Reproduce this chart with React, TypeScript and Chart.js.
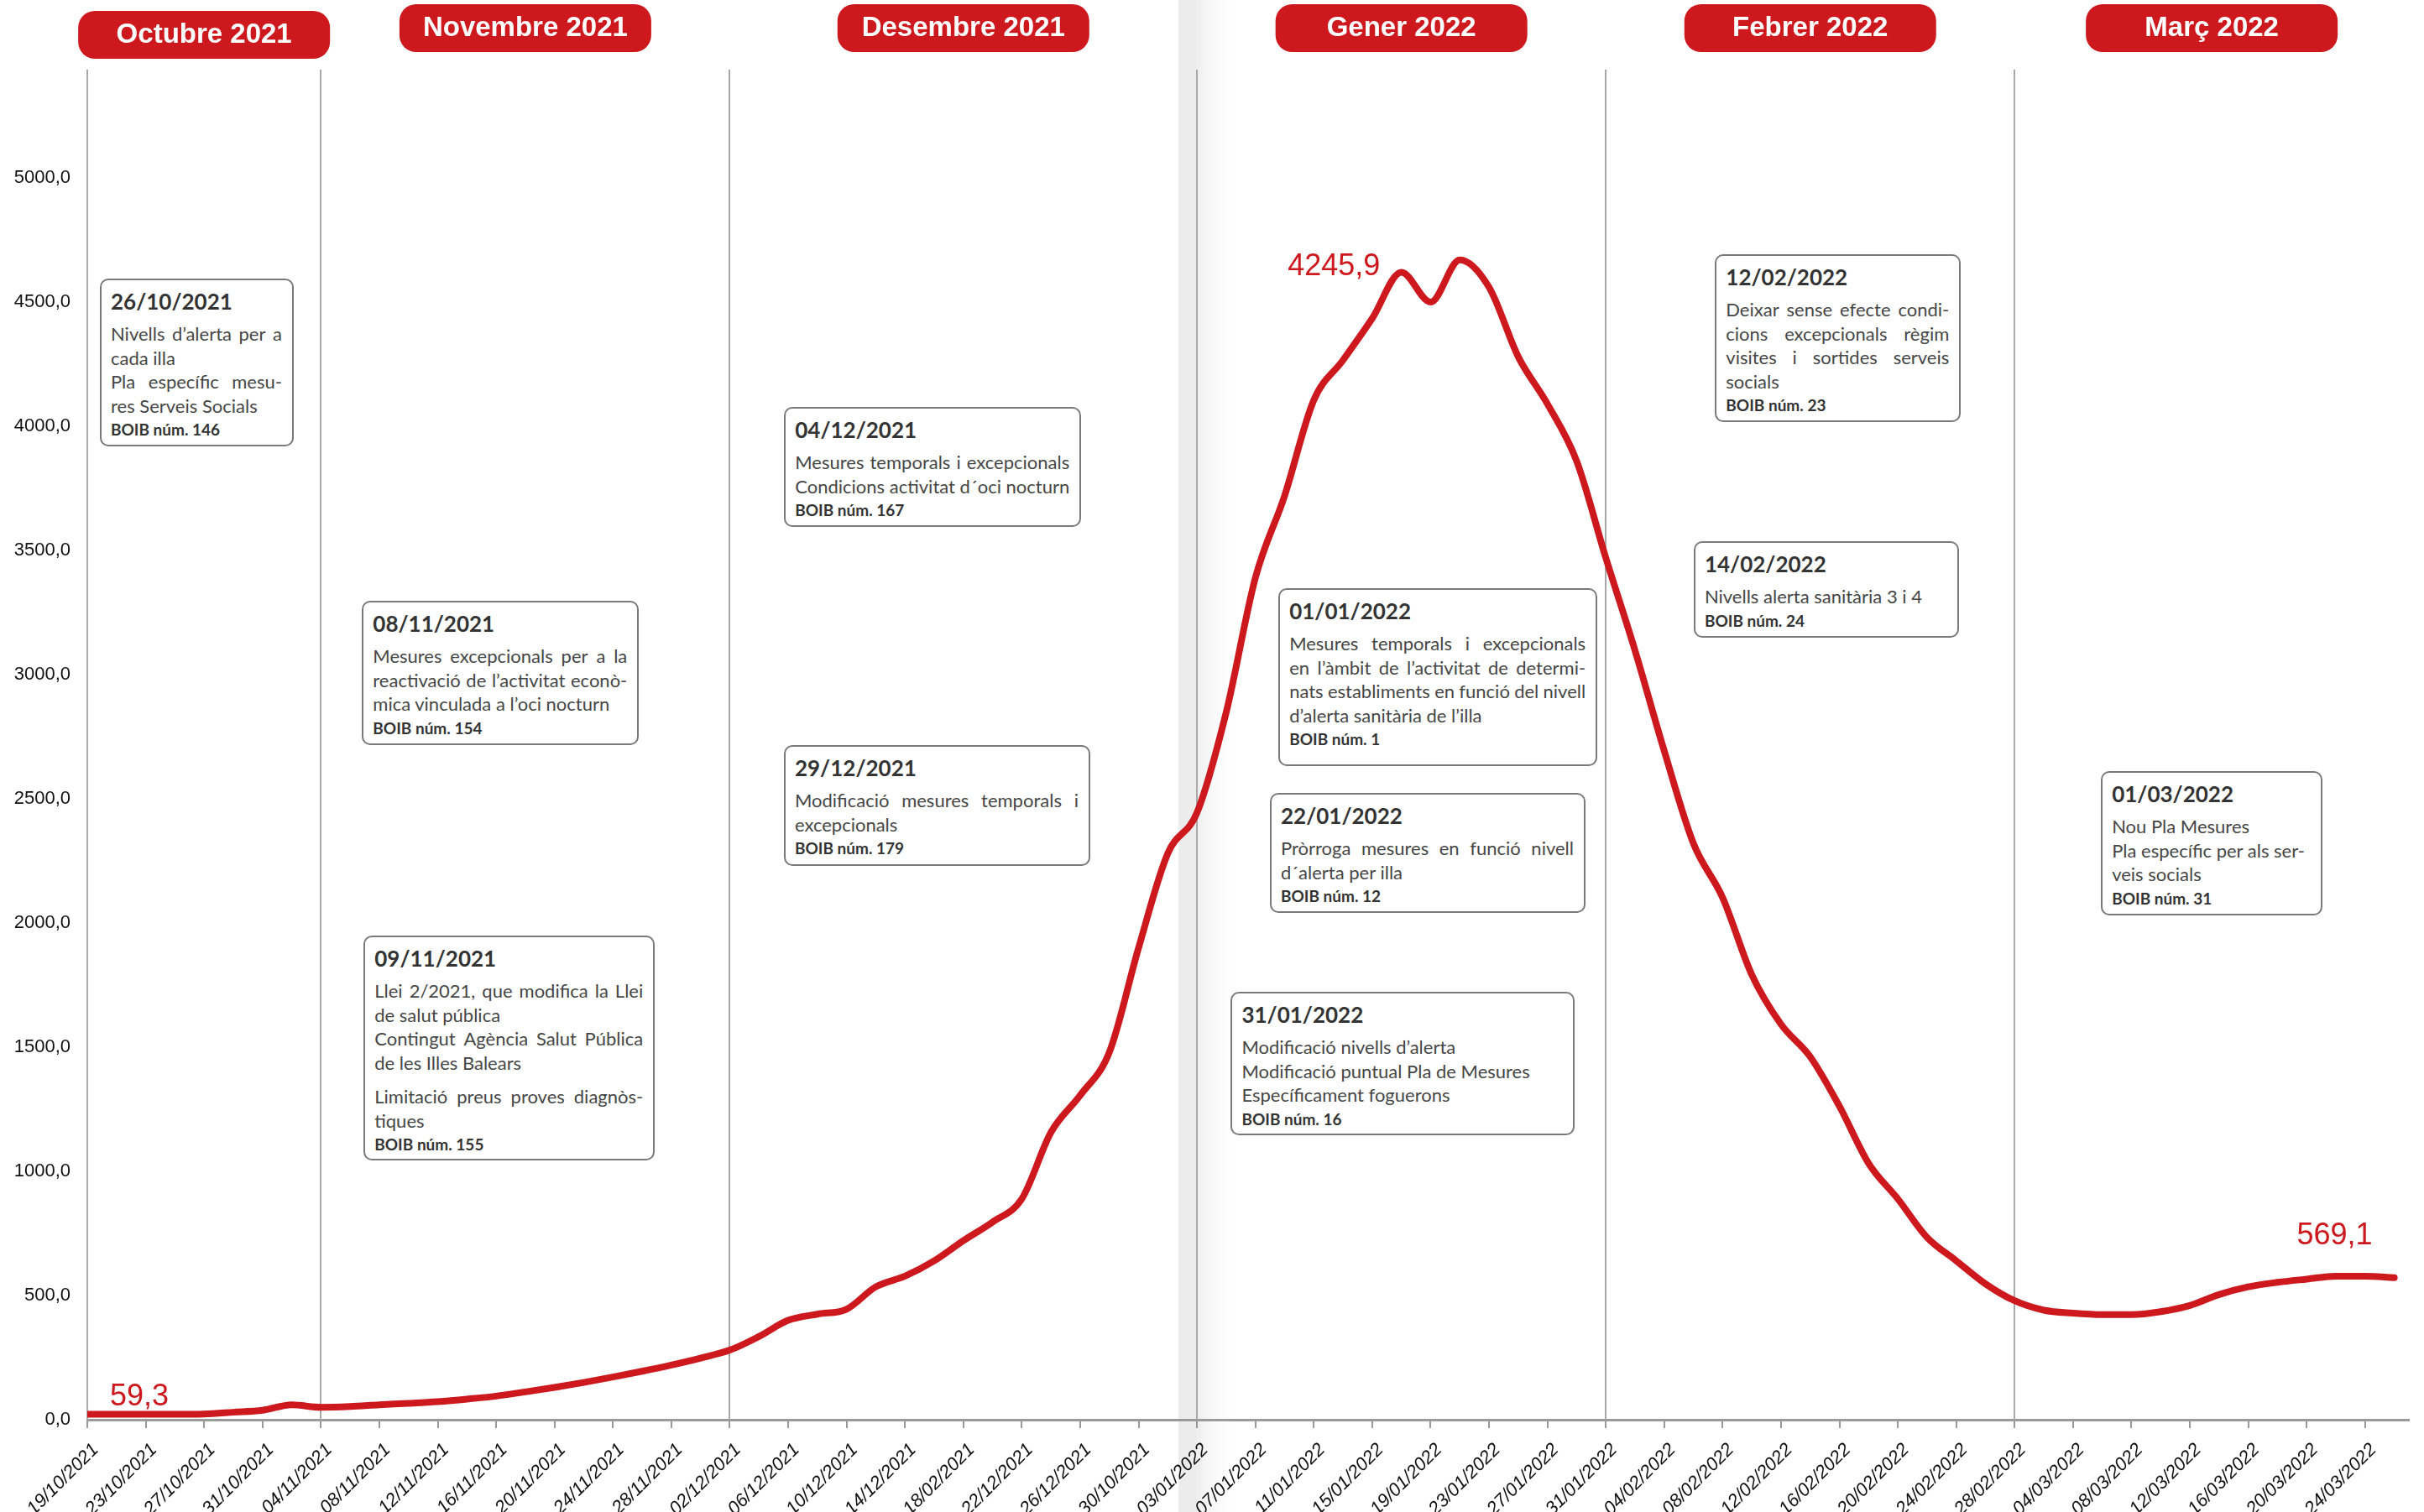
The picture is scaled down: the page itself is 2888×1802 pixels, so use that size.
import React, { useEffect, useRef, useState } from "react";
import { Chart, registerables } from "chart.js";

Chart.register(...registerables);

// ---- x axis: days counted from 19/10/2021 ----
const tickDays = [0, 4, 8, 12, 16, 20, 24, 28, 32, 36, 40, 44, 48, 52, 56, 60, 64, 68, 72, 76, 80, 84, 88, 92, 96, 100, 104, 108, 112, 116, 120, 124, 128, 132, 136, 140, 144, 148, 152, 156];
const tickLabels = [
  "19/10/2021", "23/10/2021", "27/10/2021", "31/10/2021", "04/11/2021", "08/11/2021", "12/11/2021",
  "16/11/2021", "20/11/2021", "24/11/2021", "28/11/2021", "02/12/2021", "06/12/2021", "10/12/2021",
  "14/12/2021", "18/02/2021", "22/12/2021", "26/12/2021", "30/10/2021", "03/01/2022", "07/01/2022",
  "11/01/2022", "15/01/2022", "19/01/2022", "23/01/2022", "27/01/2022", "31/01/2022", "04/02/2022",
  "08/02/2022", "12/02/2022", "16/02/2022", "20/02/2022", "24/02/2022", "28/02/2022", "04/03/2022",
  "08/03/2022", "12/03/2022", "16/03/2022", "20/03/2022", "24/03/2022",
];
const axisEndDay = 159;

// ---- series (incidence) sampled every two days ----
const sampleDays = [
  0, 2, 4, 6, 8, 10, 12, 14, 16, 18, 20, 22, 24, 26, 28, 30, 32, 34, 36, 38,
  40, 42, 44, 46, 48, 50, 52, 54, 56, 58, 60, 62, 64, 66, 68, 70, 72, 74, 76, 78,
  80, 82, 84, 86, 88, 90, 92, 94, 96, 98, 100, 102, 104, 106, 108, 110, 112, 114, 116, 118,
  120, 122, 124, 126, 128, 130, 132, 134, 136, 138, 140, 142, 144, 146, 148, 150, 152, 154, 156, 158,
];
const incidence = [
  22, 22, 22, 22, 23, 30, 38, 60, 50, 53, 60, 66, 73, 83, 95, 112, 130, 150, 172, 195,
  220, 248, 280, 335, 400, 425, 445, 535, 578, 640, 721, 796, 889, 1157, 1306, 1480, 1900, 2280, 2444, 2848,
  3390, 3720, 4105, 4266, 4434, 4620, 4500, 4670, 4560, 4280, 4090, 3860, 3470, 3097, 2693, 2320, 2102, 1791, 1592, 1461,
  1262, 1032, 889, 734, 640, 547, 479, 441, 429, 423, 423, 435, 460, 504, 535, 553, 566, 578, 578, 572,
];
const valueLabels = ["59,3", "4245,9", "569,1"];

// ---- months ----
const monthNames = ["Octubre 2021", "Novembre 2021", "Desembre 2021", "Gener 2022", "Febrer 2022", "Març 2022"];
const monthStartDays = [0, 16, 44, 76, 104, 132];

// ---- annotation texts ----
type Line = { t: string; j?: boolean; gap?: boolean };
const noteTitles = ["26/10/2021", "08/11/2021", "09/11/2021", "04/12/2021", "29/12/2021", "01/01/2022", "22/01/2022", "31/01/2022", "12/02/2022", "14/02/2022", "01/03/2022"];
const noteLines: Line[][] = [
  [{ t: "Nivells d’alerta per a", j: true }, { t: "cada illa" }, { t: "Pla específic mesu-", j: true }, { t: "res Serveis Socials" }],
  [{ t: "Mesures excepcionals per a la", j: true }, { t: "reactivació de l’activitat econò-", j: true }, { t: "mica vinculada a l’oci nocturn" }],
  [{ t: "Llei 2/2021, que modifica la Llei", j: true }, { t: "de salut pública" }, { t: "Contingut Agència Salut Pública", j: true }, { t: "de les Illes Balears" }, { t: "Limitació preus proves diagnòs-", j: true, gap: true }, { t: "tiques" }],
  [{ t: "Mesures temporals i excepcionals", j: true }, { t: "Condicions activitat d´oci nocturn" }],
  [{ t: "Modificació mesures temporals i", j: true }, { t: "excepcionals" }],
  [{ t: "Mesures temporals i excepcionals", j: true }, { t: "en l’àmbit de l’activitat de determi-", j: true }, { t: "nats establiments en funció del nivell", j: true }, { t: "d’alerta sanitària de l’illa" }],
  [{ t: "Pròrroga mesures en funció nivell", j: true }, { t: "d´alerta per illa" }],
  [{ t: "Modificació nivells d’alerta" }, { t: "Modificació puntual Pla de Mesures" }, { t: "Específicament foguerons" }],
  [{ t: "Deixar sense efecte condi-", j: true }, { t: "cions excepcionals règim", j: true }, { t: "visites i sortides serveis", j: true }, { t: "socials" }],
  [{ t: "Nivells alerta sanitària 3 i 4" }],
  [{ t: "Nou Pla Mesures" }, { t: "Pla específic per als ser-" }, { t: "veis socials" }],
];
const noteBoib = ["BOIB núm. 146", "BOIB núm. 154", "BOIB núm. 155", "BOIB núm. 167", "BOIB núm. 179", "BOIB núm. 1", "BOIB núm. 12", "BOIB núm. 16", "BOIB núm. 23", "BOIB núm. 24", "BOIB núm. 31"];

// ---- annotation layout (anchored on the x scale by day) ----
const noteCenterDay = [7.5, 28.3, 28.9, 57.9, 58.2, 92.5, 91.8, 90.1, 119.9, 119.1, 145.5];
const noteTop = [332, 716, 1115, 485, 888, 701, 945, 1182, 303, 645, 919];
const noteWidth = [231, 330, 347, 354, 365, 380, 376, 410, 293, 316, 264];
const noteHeight = [200, 172, 268, 143, 144, 212, 143, 171, 200, 115, 172];

const RED = "#CD181E";
const W = 2888;
const H = 1802;

function fmt(v: number) {
  return v.toFixed(1).replace(".", ",");
}

function roundRect(ctx: CanvasRenderingContext2D, x: number, y: number, w: number, h: number, r: number) {
  ctx.beginPath();
  ctx.moveTo(x + r, y);
  ctx.lineTo(x + w - r, y);
  ctx.arcTo(x + w, y, x + w, y + r, r);
  ctx.lineTo(x + w, y + h - r);
  ctx.arcTo(x + w, y + h, x + w - r, y + h, r);
  ctx.lineTo(x + r, y + h);
  ctx.arcTo(x, y + h, x, y + h - r, r);
  ctx.lineTo(x, y + r);
  ctx.arcTo(x, y, x + r, y, r);
  ctx.closePath();
}

const decorPlugin = {
  id: "decor",
  beforeDraw(chart: any) {
    const { ctx } = chart;
    const sx = chart.scales.x.getPixelForValue(monthStartDays[3]);
    ctx.save();
    ctx.fillStyle = "#ececec";
    ctx.fillRect(sx - 22, 0, 22, chart.height);
    const g = ctx.createLinearGradient(sx, 0, sx + 50, 0);
    g.addColorStop(0, "#eeeeee");
    g.addColorStop(1, "rgba(255,255,255,0)");
    ctx.fillStyle = g;
    ctx.fillRect(sx, 0, 50, chart.height);
    ctx.restore();
  },
  beforeDatasetsDraw(chart: any) {
    const { ctx, chartArea } = chart;
    const xs = chart.scales.x;
    ctx.save();
    ctx.strokeStyle = "#a8a8a8";
    ctx.lineWidth = 2;
    monthStartDays.forEach((d) => {
      const x = Math.round(xs.getPixelForValue(d));
      ctx.beginPath();
      ctx.moveTo(x, 83);
      ctx.lineTo(x, chartArea.bottom);
      ctx.stroke();
    });
    ctx.restore();
  },
  afterDraw(chart: any) {
    const { ctx } = chart;
    const xs = chart.scales.x;
    ctx.save();
    // month pills
    monthNames.forEach((name, i) => {
      const x0 = xs.getPixelForValue(monthStartDays[i]);
      const x1 = xs.getPixelForValue(i + 1 < monthStartDays.length ? monthStartDays[i + 1] : axisEndDay);
      const cx = (x0 + x1) / 2;
      const top = i === 0 ? 13 : 5;
      ctx.fillStyle = RED;
      roundRect(ctx, cx - 150, top, 300, 57, 20);
      ctx.fill();
      ctx.fillStyle = "#ffffff";
      ctx.font = 'bold 33px "Liberation Sans", Arial, sans-serif';
      ctx.textAlign = "center";
      ctx.textBaseline = "middle";
      ctx.fillText(name, cx, top + 29);
    });
    // value labels
    const meta = chart.getDatasetMeta(0);
    const pts = meta.data;
    let maxI = 0;
    incidence.forEach((v, i) => {
      if (v > incidence[maxI]) maxI = i;
    });
    ctx.fillStyle = RED;
    ctx.font = '36px "Liberation Sans", Arial, sans-serif';
    ctx.textBaseline = "alphabetic";
    ctx.textAlign = "left";
    ctx.fillText(valueLabels[0], pts[0].x + 27, pts[0].y - 10);
    ctx.textAlign = "right";
    ctx.fillText(valueLabels[1], pts[maxI].x - 95, pts[maxI].y + 18);
    const last = pts[pts.length - 1];
    ctx.fillText(valueLabels[2], last.x - 26, last.y - 40);
    ctx.restore();
  },
};

function NoteBox({ i, cx }: { i: number; cx: number }) {
  const w = noteWidth[i];
  return (
    <div
      style={{
        position: "absolute",
        left: cx - w / 2,
        top: noteTop[i],
        width: w,
        height: noteHeight[i],
        boxSizing: "border-box",
        border: "2.5px solid #7a7a7a",
        borderRadius: 10,
        background: "#ffffff",
        padding: "8px 12px 0 11px",
        fontFamily: "Lato, 'Open Sans', sans-serif",
        color: "#464646",
        overflow: "visible",
      }}
    >
      <div style={{ fontSize: 26, fontWeight: 700, lineHeight: "34px", color: "#333333", whiteSpace: "nowrap" }}>{noteTitles[i]}</div>
      <div style={{ marginTop: 8 }}>
        {noteLines[i].map((ln, k) =>
          ln.j ? (
            <div
              key={k}
              style={{
                display: "flex",
                justifyContent: "space-between",
                fontSize: 22,
                lineHeight: "28.5px",
                whiteSpace: "nowrap",
                marginTop: ln.gap ? 12 : 0,
              }}
            >
              {ln.t.split(" ").map((word, q) => (
                <span key={q}>{word}</span>
              ))}
            </div>
          ) : (
            <div key={k} style={{ fontSize: 22, lineHeight: "28.5px", whiteSpace: "nowrap", marginTop: ln.gap ? 12 : 0 }}>
              {ln.t}
            </div>
          )
        )}
      </div>
      <div style={{ fontSize: 19, fontWeight: 700, lineHeight: "28.5px", color: "#333333", whiteSpace: "nowrap" }}>{noteBoib[i]}</div>
    </div>
  );
}

export default function App() {
  const canvasRef = useRef<HTMLCanvasElement | null>(null);
  const [centers, setCenters] = useState<number[]>([]);

  useEffect(() => {
    document.body.style.margin = "0";
    document.body.style.overflow = "hidden";
    const canvas = canvasRef.current;
    if (!canvas) return;
    const chart = new Chart(canvas, {
      type: "line",
      data: {
        datasets: [
          {
            data: sampleDays.map((d, i) => ({ x: d, y: incidence[i] })),
            borderColor: RED,
            borderWidth: 8,
            pointRadius: 0,
            fill: false,
            cubicInterpolationMode: "monotone",
            borderCapStyle: "round",
            borderJoinStyle: "round",
          },
        ],
      },
      options: {
        responsive: false,
        animation: false,
        devicePixelRatio: 1,
        layout: { padding: { top: 64, right: 18, left: 0, bottom: 0 } },
        plugins: { legend: { display: false }, tooltip: { enabled: false } },
        scales: {
          x: {
            type: "linear",
            min: 0,
            max: axisEndDay,
            bounds: "data",
            afterBuildTicks: (s: any) => {
              s.ticks = tickDays.map((v) => ({ value: v }));
            },
            afterFit: (s: any) => {
              s.height = 110;
              s.paddingLeft = 0;
              s.paddingRight = 0;
            },
            grid: { display: true, drawOnChartArea: false, drawTicks: true, tickLength: 10, color: "#9a9a9a", lineWidth: 2 },
            border: { display: true, color: "#9a9a9a", width: 3 },
            ticks: {
              autoSkip: false,
              maxRotation: 45,
              minRotation: 45,
              padding: 13,
              labelOffset: 10,
              color: "#111111",
              font: { family: '"Liberation Sans", Arial, sans-serif', size: 22, style: "italic" },
              callback: (v: any) => {
                const k = tickDays.indexOf(Number(v));
                return k >= 0 ? tickLabels[k] : "";
              },
            },
          },
          y: {
            min: 0,
            max: 5500,
            afterFit: (s: any) => {
              s.width = 104;
              s.paddingTop = 0;
              s.paddingBottom = 0;
            },
            grid: { display: false },
            border: { display: false },
            ticks: {
              stepSize: 500,
              padding: 12,
              color: "#111111",
              font: { family: '"Liberation Sans", Arial, sans-serif', size: 22 },
              callback: (v: any) => (Number(v) > 5000 ? "" : fmt(Number(v))),
            },
          },
        },
      },
      plugins: [decorPlugin],
    } as any);
    const xs = chart.scales.x;
    setCenters(noteCenterDay.map((d) => xs.getPixelForValue(d)));
    return () => {
      chart.destroy();
    };
  }, []);

  return (
    <div style={{ position: "absolute", left: 0, top: 0, width: W, height: H, overflow: "hidden", background: "#ffffff" }}>
      <canvas ref={canvasRef} width={W} height={H} style={{ display: "block", width: W, height: H }} />
      {centers.length > 0 && noteTitles.map((_, i) => <NoteBox key={i} i={i} cx={centers[i]} />)}
    </div>
  );
}
